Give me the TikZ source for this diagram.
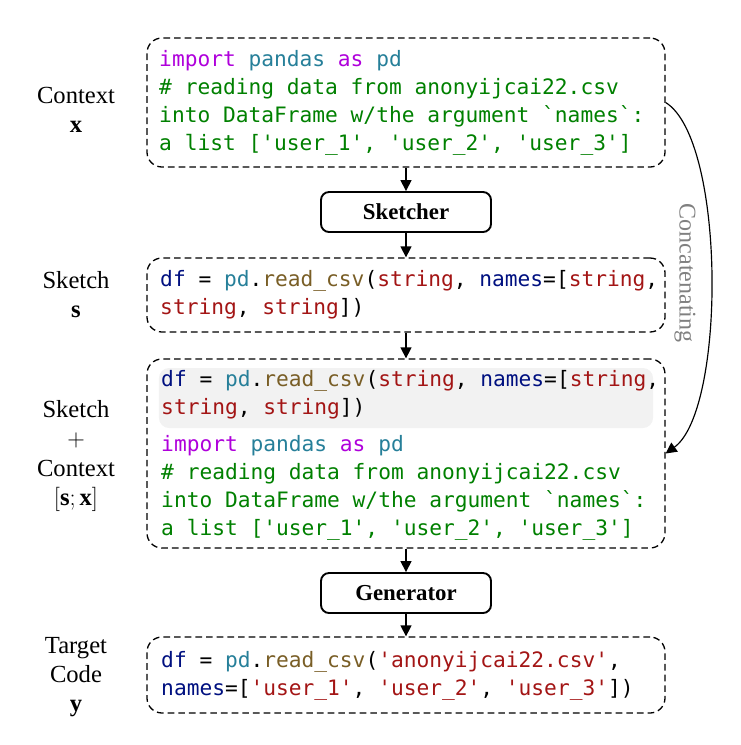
\documentclass[tikz,border=0pt]{standalone}
\usepackage{fontspec}
\setmainfont{Liberation Serif}
\setmonofont{DejaVu Sans Mono}
\usetikzlibrary{arrows.meta,positioning}

\definecolor{kwpurple}{HTML}{AF00DB}
\definecolor{modteal}{HTML}{267F99}
\definecolor{cmtgreen}{HTML}{008000}
\definecolor{varblue}{HTML}{001080}
\definecolor{fnbrown}{HTML}{795E26}
\definecolor{strred}{HTML}{A31515}
\definecolor{hlgray}{HTML}{F2F2F2}

\newcommand{\kw}[1]{\textcolor{kwpurple}{#1}}
\newcommand{\md}[1]{\textcolor{modteal}{#1}}
\newcommand{\cm}[1]{\textcolor{cmtgreen}{#1}}
\newcommand{\vr}[1]{\textcolor{varblue}{#1}}
\newcommand{\fn}[1]{\textcolor{fnbrown}{#1}}
\newcommand{\st}[1]{\textcolor{strred}{#1}}

\tikzset{
  codebox/.style={draw, dashed, dash pattern=on 0.2cm off 0.12cm, line width=1.1pt,
    rounded corners=0.45cm, minimum width=15.54cm, inner sep=0pt},
  modelbox/.style={draw, line width=1.6pt, rounded corners=0.24cm,
    minimum width=5.1cm, minimum height=1.2cm,
    font=\fontsize{19.5}{23}\selectfont\bfseries},
  code/.style={anchor=west, align=left, inner sep=0pt,
    font=\ttfamily\fontsize{18.1}{23.9}\selectfont},
  sidelabel/.style={align=center, inner sep=0pt,
    font=\fontsize{21}{24.8}\selectfont},
  flow/.style={-{Triangle[length=0.33cm,width=0.33cm]}, line width=1.2pt}
}

\begin{document}
\begin{tikzpicture}[x=0.03cm, y=-0.03cm]
    \useasboundingbox (0,0) rectangle (741,745);

    % Code boxes
    \node[codebox, minimum height=3.87cm] (ctx) at (406,102.5) {};
    \node[codebox, minimum height=2.22cm] (sk) at (406,295) {};
    \node[codebox, minimum height=5.67cm] (sc) at (406,453.5) {};
    \node[codebox, minimum height=2.28cm] (tgt) at (406,675) {};

    % Models
    \node[modelbox] (sketcher) at (406,212) {Sketcher};
    \node[modelbox] (gen) at (406,593) {Generator};

    % Highlighted sketch inside the combined box
    \node[fill=hlgray, rounded corners=0.3cm, inner sep=0pt,
      minimum width=14.82cm, minimum height=1.8cm] (hl) at (406,398) {};

    % Code
    \node[code] (ctxcode) at (159,103) {%
      \kw{import} \md{pandas} \kw{as} \md{pd}\\
      \cm{\# reading data from anonyijcai22.csv}\\
      \cm{into DataFrame w/the argument `names`:}\\
      \cm{a list ['user\_1', 'user\_2', 'user\_3']}};
    \node[code] (skcode) at (160,295) {%
      \vr{df} = \md{pd}.\fn{read\_csv}(\st{string}, \vr{names}=[\st{string},\\
      \st{string}, \st{string}])};
    \node[code] (sccode1) at (161,395) {%
      \vr{df} = \md{pd}.\fn{read\_csv}(\st{string}, \vr{names}=[\st{string},\\
      \st{string}, \st{string}])};
    \node[code] (sccode2) at (161,488) {%
      \kw{import} \md{pandas} \kw{as} \md{pd}\\
      \cm{\# reading data from anonyijcai22.csv}\\
      \cm{into DataFrame w/the argument `names`:}\\
      \cm{a list ['user\_1', 'user\_2', 'user\_3']}};
    \node[code] (tgtcode) at (161,676) {%
      \vr{df} = \md{pd}.\fn{read\_csv}(\st{'anonyijcai22.csv'},\\
      \vr{names}=[\st{'user\_1'}, \st{'user\_2'}, \st{'user\_3'}])};

    % Side labels
    \node[sidelabel] (lctx) at (76,110) {Context\\$\mathbf{x}$};
    \node[sidelabel] (lsk) at (76,295) {Sketch\\$\mathbf{s}$};
    \node[sidelabel] (lsc) at (76,456) {Sketch\\$+$\\Context\\$[\mathbf{s};\mathbf{x}]$};
    \node[sidelabel] (ltgt) at (76,677) {Target\\Code\\$\mathbf{y}$};

    % Flow
    \draw[flow] (ctx) -- (sketcher);
    \draw[flow] (sketcher) -- (sk);
    \draw[flow] (sk) -- (sc);
    \draw[flow] (sc) -- (gen);
    \draw[flow] (gen) -- (tgt);

    % Concatenation
    \draw[flow, line width=1pt] (ctx.east) .. controls (726,140) and (726,410) .. (sc.east);
    \node[rotate=-90, text=gray, font=\fontsize{20.5}{24}\selectfont] (concat) at (685,273) {Concatenating};
\end{tikzpicture}
\end{document}
